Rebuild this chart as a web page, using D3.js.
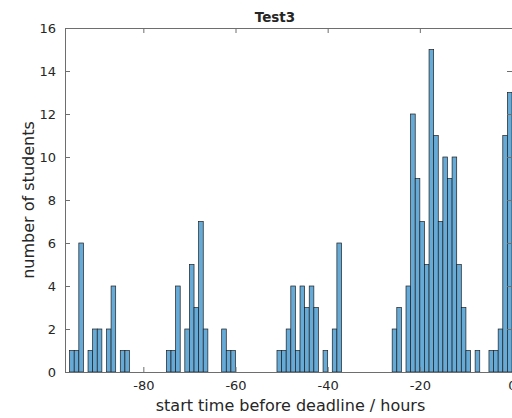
<!DOCTYPE html>
<html lang="en">
<head>
<meta charset="UTF-8">
<style>
    body { margin: 0; background: #fff; }
    svg text { font-family: "DejaVu Sans", sans-serif; fill: #262626; }
</style>
</head>
<body>
<svg width="512" height="418"></svg>
<script src="https://d3js.org/d3.v7.min.js"></script>
<script>

// left edge of each 1-hour bin (hours before deadline)
var binStarts = d3.range(-96, 0);

// number of students per bin, bins -96 .. -1
var counts = [
    1, 1, 6, 0, 1, 2, 2, 0, 2, 4, 0, 1, 1,          // -96 .. -84
    0, 0, 0, 0, 0, 0, 0, 0,                         // -83 .. -76
    1, 1, 4, 0, 2, 5, 3, 7, 2,                      // -75 .. -67
    0, 0, 0,                                        // -66 .. -64
    2, 1, 1,                                        // -63 .. -61
    0, 0, 0, 0, 0, 0, 0, 0, 0,                      // -60 .. -52
    1, 1, 2, 4, 1, 4, 3, 4, 3, 0, 1, 0, 2, 6,       // -51 .. -38
    0, 0, 0, 0, 0, 0, 0, 0, 0, 0, 0,                // -37 .. -27
    2, 3, 0, 4, 12, 9, 7, 5, 15, 11, 7, 10, 9,      // -26 .. -14
    10, 5, 3, 1, 0, 1, 0, 0, 1, 1, 2, 11, 13        // -13 .. -1
];

var xTicks = [-80, -60, -40, -20, 0];
var yTicks = [0, 2, 4, 6, 8, 10, 12, 14, 16];

var titleText = "Test3";
var xLabel = "start time before deadline / hours";
var yLabel = "number of students";

// axes box
var margin = {top: 28, right: 0, bottom: 46, left: 65},
    width = 512 - margin.left - margin.right,
    height = 418 - margin.top - margin.bottom;

var x = d3.scaleLinear().domain([-97, 0]).range([0, width]);
var y = d3.scaleLinear().domain([0, 16]).range([height, 0]);

var svg = d3.select("svg")
  .append("g")
    .attr("transform", "translate(" + margin.left + "," + margin.top + ")");

var data = binStarts.map(function(b, i) { return {start: b, count: counts[i]}; });

// bars
svg.selectAll(".bar")
    .data(data)
  .enter()
  .append("rect")
    .attr("class", "bar")
    .attr("x", function(d) { return x(d.start); })
    .attr("width", function(d) { return x(d.start + 1) - x(d.start); })
    .attr("y", function(d) { return y(d.count); })
    .attr("height", function(d) { return y(0) - y(d.count); })
    .attr("fill", "#66aad7")
    .attr("stroke", "#1f1f1f")
    .attr("stroke-width", 0.7);

// axes: ticks point inwards, box on
var axisColor = "#6e6e6e";

var xAxis = svg.append("g")
    .attr("transform", "translate(0," + height + ")")
    .call(d3.axisBottom(x).tickValues(xTicks).tickSizeInner(-5).tickSizeOuter(0).tickPadding(9)
        .tickFormat(function(d) { return String(d); }));

var xTop = svg.append("g")
    .call(d3.axisTop(x).tickValues(xTicks).tickSizeInner(-5).tickSizeOuter(0).tickFormat(""));

var yAxis = svg.append("g")
    .call(d3.axisLeft(y).tickValues(yTicks).tickSizeInner(-5).tickSizeOuter(0).tickPadding(9));

var yRight = svg.append("g")
    .attr("transform", "translate(" + width + ",0)")
    .call(d3.axisRight(y).tickValues(yTicks).tickSizeInner(-5).tickSizeOuter(0).tickFormat(""));

[xAxis, xTop, yAxis, yRight].forEach(function(g) {
    g.select(".domain").attr("stroke", axisColor).attr("stroke-width", 1);
    g.selectAll(".tick line").attr("stroke", axisColor).attr("stroke-width", 1);
    g.selectAll(".tick text")
        .attr("font-family", "DejaVu Sans, sans-serif")
        .attr("font-size", 13)
        .attr("fill", "#262626");
});

// title and axis labels
svg.append("text")
    .attr("x", 210)
    .attr("y", -6)
    .attr("text-anchor", "middle")
    .attr("font-size", 13.5)
    .attr("font-weight", "bold")
    .text(titleText);

svg.append("text")
    .attr("x", width / 2 + 2)
    .attr("y", height + 39)
    .attr("text-anchor", "middle")
    .attr("font-size", 16)
    .text(xLabel);

svg.append("text")
    .attr("transform", "translate(" + (-31) + "," + (height / 2) + ") rotate(-90)")
    .attr("text-anchor", "middle")
    .attr("font-size", 16)
    .text(yLabel);

</script>
</body>
</html>
